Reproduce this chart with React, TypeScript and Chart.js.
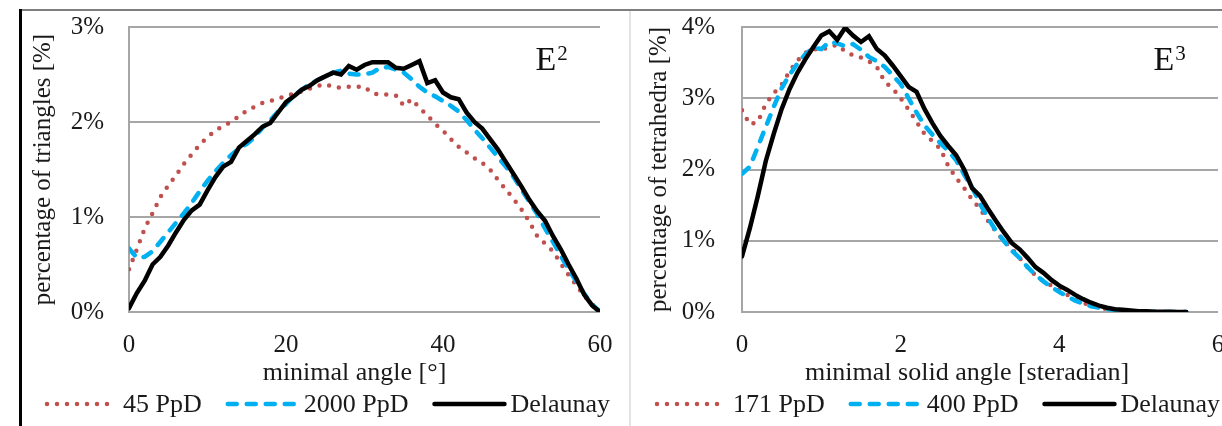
import React, { useEffect, useRef } from "react";
import { Chart, registerables } from "chart.js";

Chart.register(...registerables);

const FONT = '"Liberation Serif", "Times New Roman", serif';
Chart.defaults.font.family = FONT;

const RED = "#C0504D";
const BLUE = "#00B0F0";
const BLACK = "#000000";
const GRID = "#a6a6a6";
const TEXT = "#1a1a1a";

// ---------- Left panel (E2): minimal angle [deg] ----------
const angleDeg = [
  0, 1, 2, 3, 4, 5, 6, 7, 8, 9, 10, 11, 12, 13, 14, 15, 16, 17, 18, 19, 20,
  21, 22, 23, 24, 25, 26, 27, 28, 29, 30, 31, 32, 33, 34, 35, 36, 37, 38, 39,
  40, 41, 42, 43, 44, 45, 46, 47, 48, 49, 50, 51, 52, 53, 54, 55, 56, 57, 58,
  59, 60,
];
const pct45PpD = [
  0.45, 0.66, 0.88, 1.04, 1.21, 1.33, 1.44, 1.56, 1.66, 1.76,
  1.84, 1.91, 1.96, 2.0, 2.06, 2.12, 2.16, 2.2, 2.22, 2.25,
  2.27, 2.3, 2.32, 2.35, 2.38, 2.4, 2.37, 2.36, 2.37, 2.37,
  2.37, 2.3, 2.29, 2.29, 2.28, 2.17, 2.24, 2.15, 2.07, 1.98,
  1.91, 1.82, 1.74, 1.68, 1.62, 1.57, 1.5, 1.39, 1.29, 1.19,
  1.08, 0.95, 0.8, 0.72, 0.64, 0.51, 0.39, 0.28, 0.17, 0.08,
  0.0,
];
const pct2000PpD = [
  0.67, 0.57, 0.58, 0.64, 0.74, 0.84, 0.94, 1.04, 1.15, 1.27,
  1.38, 1.48, 1.57, 1.65, 1.72, 1.77, 1.84, 1.94, 2.02, 2.11,
  2.19, 2.28, 2.34, 2.4, 2.44, 2.48, 2.52, 2.54, 2.51, 2.5,
  2.5, 2.52, 2.57, 2.58, 2.55, 2.52, 2.45, 2.37, 2.31, 2.27,
  2.22, 2.17, 2.11, 2.02, 1.92, 1.83, 1.73, 1.63, 1.53, 1.42,
  1.29, 1.16, 1.03, 0.88, 0.74, 0.59, 0.45, 0.32, 0.19, 0.08,
  0.0,
];
const pctDelaunay2D = [
  0.04, 0.2, 0.33, 0.5, 0.58, 0.7, 0.84, 0.97, 1.07, 1.13,
  1.28, 1.42, 1.53, 1.58, 1.73, 1.8, 1.87, 1.95, 1.99, 2.1,
  2.21, 2.27, 2.34, 2.38, 2.44, 2.48, 2.52, 2.5, 2.59, 2.55,
  2.6, 2.63, 2.63, 2.63, 2.57, 2.56, 2.6, 2.64, 2.41, 2.44,
  2.31, 2.26, 2.24, 2.1, 2.0, 1.93, 1.82, 1.71, 1.58, 1.45,
  1.32, 1.18, 1.06, 0.96, 0.8, 0.66, 0.5, 0.35, 0.18, 0.07,
  0.0,
];

// ---------- Right panel (E3): minimal solid angle [sr] ----------
const solidAngle = [
  0.0, 0.1, 0.2, 0.3, 0.4, 0.5, 0.6, 0.7, 0.8, 0.9,
  1.0, 1.1, 1.2, 1.3, 1.4, 1.5, 1.6, 1.7, 1.8, 1.9,
  2.0, 2.1, 2.2, 2.3, 2.4, 2.5, 2.6, 2.7, 2.8, 2.9,
  3.0, 3.1, 3.2, 3.3, 3.4, 3.5, 3.6, 3.7, 3.8, 3.9,
  4.0, 4.1, 4.2, 4.3, 4.4, 4.5, 4.6, 4.7, 4.8, 4.9,
  5.0, 5.1, 5.2, 5.3, 5.4, 5.5, 5.6,
];
const pct171PpD = [
  2.83, 2.63, 2.67, 2.92, 3.07, 3.19, 3.38, 3.53, 3.64, 3.69,
  3.68, 3.72, 3.75, 3.66, 3.6, 3.57, 3.52, 3.44, 3.23, 3.14,
  3.0, 2.84, 2.67, 2.5, 2.4, 2.29, 2.05, 1.88, 1.74, 1.58,
  1.45, 1.28, 1.13, 1.0, 0.89, 0.76, 0.63, 0.51, 0.43, 0.37,
  0.31, 0.24, 0.18, 0.13, 0.09, 0.06, 0.04, 0.03, 0.02, 0.01,
  0.005, 0.003, 0.002, 0.001, 0.001, 0.0, 0.0,
];
const pct400PpD = [
  1.94, 2.04, 2.32, 2.6, 2.88, 3.14, 3.33, 3.49, 3.62, 3.71,
  3.69, 3.79, 3.77, 3.73, 3.76, 3.68, 3.58, 3.52, 3.44, 3.32,
  3.2, 3.0, 2.8, 2.62, 2.49, 2.37, 2.26, 2.13, 1.93, 1.75,
  1.52, 1.32, 1.14, 1.0, 0.86, 0.76, 0.63, 0.52, 0.43, 0.35,
  0.28, 0.22, 0.16, 0.12, 0.08, 0.06, 0.04, 0.03, 0.02, 0.01,
  0.005, 0.003, 0.002, 0.001, 0.001, 0.0, 0.0,
];
const pctDelaunay3D = [
  0.78, 1.18, 1.63, 2.12, 2.5, 2.85, 3.13, 3.36, 3.55, 3.72,
  3.88, 3.94, 3.82, 3.99, 3.88, 3.79, 3.87, 3.69, 3.6, 3.46,
  3.31, 3.16, 3.09, 2.85, 2.65, 2.47, 2.33, 2.2, 2.0, 1.74,
  1.63, 1.45, 1.28, 1.12, 0.97, 0.88, 0.76, 0.63, 0.55, 0.45,
  0.37, 0.31, 0.24, 0.18, 0.13, 0.09, 0.06, 0.04, 0.03, 0.02,
  0.01, 0.01, 0.005, 0.003, 0.002, 0.001, 0.001,
];

type LineStyle = "dotted" | "dashed" | "solid";

const styleOf = (s: LineStyle) => {
  if (s === "dotted")
    return { borderColor: RED, borderWidth: 4.5, borderDash: [0, 10], borderCapStyle: "round" as const, order: 2 };
  if (s === "dashed")
    return { borderColor: BLUE, borderWidth: 4.5, borderDash: [9, 10], borderCapStyle: "round" as const, order: 1 };
  return { borderColor: BLACK, borderWidth: 4.5, borderDash: [] as number[], borderCapStyle: "round" as const, order: 0 };
};

const decorPlugin = {
  id: "decor",
  afterDraw(chart: any, _args: any, opts: any) {
    const { ctx, chartArea } = chart;
    ctx.save();
    // x-axis title
    ctx.fillStyle = TEXT;
    ctx.font = `26px ${FONT}`;
    ctx.textAlign = "center";
    ctx.textBaseline = "middle";
    ctx.fillText(opts.xTitle, (chartArea.left + chartArea.right) / 2 + opts.xTitleShift, opts.xTitleY);

    // E^n annotation
    ctx.textAlign = "left";
    ctx.textBaseline = "alphabetic";
    ctx.fillStyle = "#111";
    ctx.font = `34px ${FONT}`;
    const ex = chartArea.right + opts.markDx;
    ctx.fillText("E", ex, opts.markY);
    const ew = ctx.measureText("E").width;
    ctx.font = `21px ${FONT}`;
    ctx.fillText(opts.markSup, ex + ew + 1, opts.markY - 10);

    // legend
    let x = opts.legendX;
    const y = opts.legendY;
    const sampleW = 70;
    chart.data.datasets.forEach((ds: any) => {
      ctx.save();
      ctx.strokeStyle = ds.borderColor;
      ctx.lineWidth = ds.borderWidth;
      ctx.lineCap = "round";
      ctx.setLineDash(ds.borderDash || []);
      ctx.beginPath();
      ctx.moveTo(x, y);
      ctx.lineTo(x + sampleW, y);
      ctx.stroke();
      ctx.restore();
      x += sampleW + 6;
      ctx.font = `26px ${FONT}`;
      ctx.fillStyle = TEXT;
      ctx.textBaseline = "middle";
      ctx.fillText(ds.label, x, y + 1);
      x += ctx.measureText(ds.label).width + 26;
    });
    ctx.restore();
  },
};

type PanelDef = {
  xs: number[];
  series: { label: string; data: number[]; style: LineStyle }[];
  xMax: number;
  xStep: number;
  yMax: number;
  yTitle: string;
  xTitle: string;
  xTitleShift: number;
  yAxisWidth: number;
  yTitlePad: number;
  yTickPad: number;
  rightPad: number;
  markSup: string;
  legendX: number;
};

function makeConfig(p: PanelDef): any {
  return {
    type: "line",
    data: {
      datasets: p.series.map((s) => ({
        label: s.label,
        data: p.xs.map((x, i) => ({ x, y: s.data[i] })),
        ...styleOf(s.style),
        pointRadius: 0,
        tension: 0,
        fill: false,
      })),
    },
    options: {
      responsive: false,
      animation: false,
      devicePixelRatio: 1,
      layout: { padding: { left: 0, top: 17, right: p.rightPad, bottom: 38 } },
      plugins: {
        legend: { display: false },
        tooltip: { enabled: false },
        decor: {
          xTitle: p.xTitle,
          xTitleShift: p.xTitleShift,
          xTitleY: 363,
          markDx: -64.5,
          markY: 59.5,
          markSup: p.markSup,
          legendX: p.legendX,
          legendY: 394,
        },
      },
      scales: {
        x: {
          type: "linear",
          min: 0,
          max: p.xMax,
          grid: { display: false },
          border: { display: false },
          ticks: {
            stepSize: p.xStep,
            padding: 10,
            maxRotation: 0,
            autoSkip: false,
            color: TEXT,
            font: { family: FONT, size: 25 },
          },
          afterFit: (s: any) => {
            s.height = 76;
            s.paddingLeft = 0;
            s.paddingRight = 0;
          },
        },
        y: {
          min: 0,
          max: p.yMax,
          grid: { color: GRID, lineWidth: 2, drawTicks: false },
          border: { display: true, color: GRID, width: 2 },
          ticks: {
            stepSize: 1,
            padding: p.yTickPad,
            color: TEXT,
            font: { family: FONT, size: 25 },
            callback: (v: any) => `${v}%`,
          },
          title: {
            display: true,
            text: p.yTitle,
            color: TEXT,
            font: { family: FONT, size: 25 },
            padding: { top: p.yTitlePad, bottom: 0 },
          },
          afterFit: (s: any) => {
            s.width = p.yAxisWidth;
            s.paddingTop = 0;
            s.paddingBottom = 0;
          },
        },
      },
    },
    plugins: [decorPlugin],
  };
}

const leftPanel: PanelDef = {
  xs: angleDeg,
  series: [
    { label: "45 PpD", data: pct45PpD, style: "dotted" },
    { label: "2000 PpD", data: pct2000PpD, style: "dashed" },
    { label: "Delaunay", data: pctDelaunay2D, style: "solid" },
  ],
  xMax: 60,
  xStep: 20,
  yMax: 3,
  yTitle: "percentage of triangles [%]",
  xTitle: "minimal angle [°]",
  xTitleShift: -10,
  yAxisWidth: 109,
  yTitlePad: 8,
  yTickPad: 25,
  rightPad: 30,
  markSup: "2",
  legendX: 27,
};

const rightPanel: PanelDef = {
  xs: solidAngle,
  series: [
    { label: "171 PpD", data: pct171PpD, style: "dotted" },
    { label: "400 PpD", data: pct400PpD, style: "dashed" },
    { label: "Delaunay", data: pctDelaunay3D, style: "solid" },
  ],
  xMax: 6,
  xStep: 2,
  yMax: 4,
  yTitle: "percentage of tetrahedra [%]",
  xTitle: "minimal solid angle [steradian]",
  xTitleShift: -13,
  yAxisWidth: 112,
  yTitlePad: 14,
  yTickPad: 27,
  rightPad: 4,
  markSup: "3",
  legendX: 27,
};

function ChartPanel({ left, width, panel }: { left: number; width: number; panel: PanelDef }) {
  const ref = useRef<HTMLCanvasElement>(null);
  useEffect(() => {
    const chart = new Chart(ref.current as HTMLCanvasElement, makeConfig(panel));
    return () => chart.destroy();
  }, [panel]);
  return (
    <canvas
      ref={ref}
      width={width}
      height={416}
      style={{ position: "absolute", left, top: 10, width, height: 416 }}
    />
  );
}

export default function App() {
  return (
    <div
      style={{
        position: "absolute",
        left: 0,
        top: 0,
        width: 1222,
        height: 426,
        background: "#ffffff",
        overflow: "hidden",
      }}
    >
      <ChartPanel left={20} width={610} panel={leftPanel} />
      <ChartPanel left={630} width={592} panel={rightPanel} />
      <div style={{ position: "absolute", left: 20, top: 9, width: 1202, height: 2, background: "#7f7f7f" }} />
      <div style={{ position: "absolute", left: 19, top: 9, width: 3, height: 417, background: "#000000" }} />
      <div style={{ position: "absolute", left: 629, top: 11, width: 2, height: 415, background: "#e3e3e3" }} />
    </div>
  );
}
